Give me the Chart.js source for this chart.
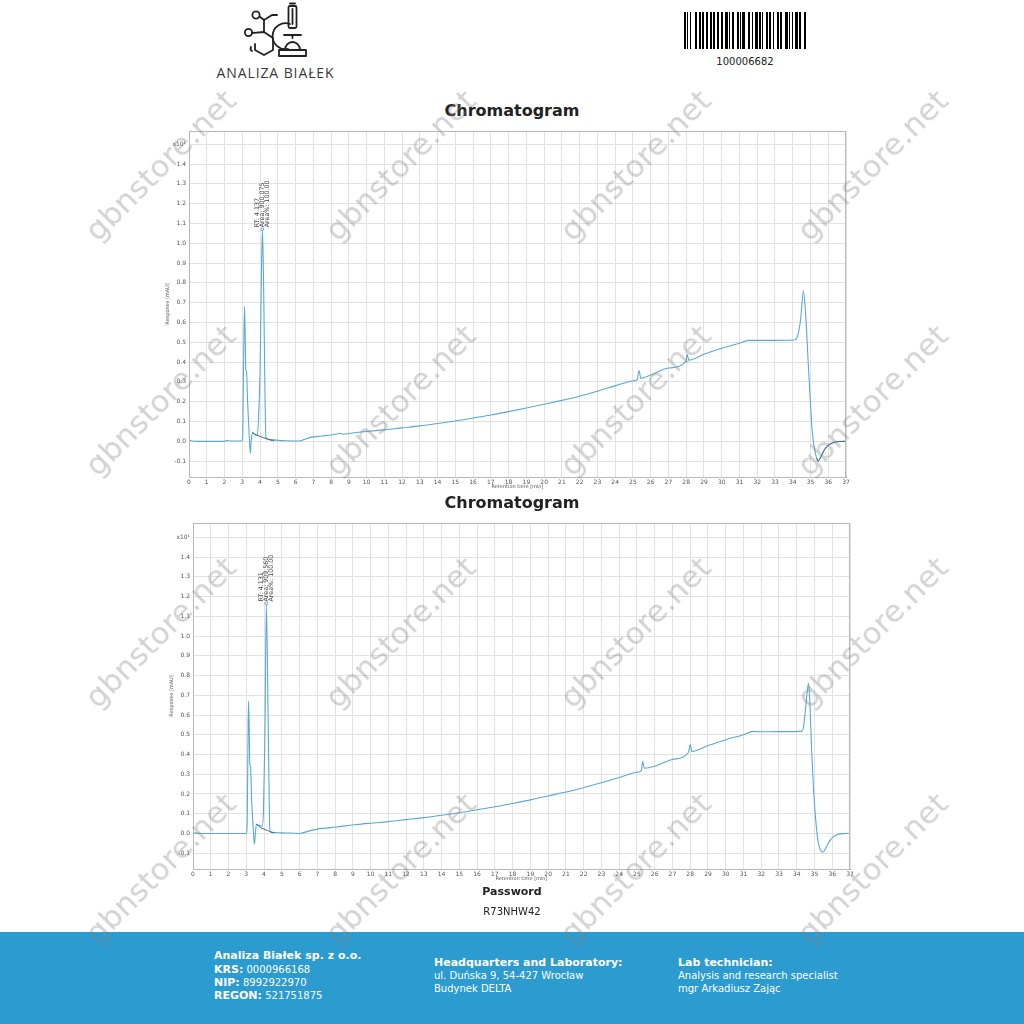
<!DOCTYPE html>
<html><head><meta charset="utf-8">
<script src="https://cdn.jsdelivr.net/npm/chart.js@4"></script>
<style>
html,body{margin:0;padding:0;background:#fff;}
body{width:1024px;height:1024px;position:relative;overflow:hidden;font-family:"DejaVu Sans",sans-serif;}
.ctitle{position:absolute;left:0;width:1024px;text-align:center;font-weight:bold;font-size:16px;line-height:20px;color:#222;}
canvas{position:absolute;}
.wm{position:absolute;transform:translate(-50%,-50%) rotate(-45deg);white-space:nowrap;font-family:"DejaVu Sans",sans-serif;font-size:31px;color:rgba(130,130,130,0.36);z-index:10;pointer-events:none;}
.footer{position:absolute;left:0;top:932px;width:1024px;height:92px;background:#2b9bd0;color:#fff;}
.fl{position:absolute;white-space:nowrap;font-size:10px;line-height:13px;}
.fl b{font-size:11px;}
</style></head>
<body>
<svg style="position:absolute;left:200px;top:0" width="160" height="90" viewBox="200 0 160 90">
 <g fill="none" stroke="#222" stroke-width="1.8" stroke-linecap="round" stroke-linejoin="round">
  <circle cx="256" cy="15" r="3.6"/>
  <circle cx="248.5" cy="32.5" r="3.6"/>
  <path d="M259.5 16.5 L264 20 L272 15 L277 15"/>
  <path d="M264 20 L264 32"/>
  <path d="M252 33 L264 32 L273 38 L273 50 L264 55 L255 50 L255 44"/>
  <path d="M251 47 A3 3 0 0 0 252 51"/>
  <path d="M290 24 A13 13 0 1 0 288 49"/>
  <rect x="288.5" y="6" width="8" height="22" rx="1.5"/>
  <path d="M290 3.5 L295 3.5 M292.5 9 L292.5 24"/>
  <path d="M284 35 L301 35"/>
  <path d="M292.5 35 L292.5 38"/>
  <path d="M285 50 A7.5 8 0 0 1 300 50"/>
  <rect x="279" y="50" width="27" height="6"/>
 </g>
 <text x="275.5" y="78" text-anchor="middle" font-family="'Open Sans',sans-serif" font-size="14" fill="#3a3a3a" letter-spacing="0.9">ANALIZA BIAŁEK</text>
</svg>
<svg id="barcode" style="position:absolute;left:684px;top:12px" width="124" height="37"></svg>
<div style="position:absolute;left:645px;width:200px;top:55px;text-align:center;font-size:10px;line-height:14px;color:#222;">100006682</div>

<div class="ctitle" style="top:101px">Chromatogram</div>
<canvas id="c1" width="697" height="380" style="left:163px;top:120px"></canvas>
<div class="ctitle" style="top:493px">Chromatogram</div>
<canvas id="c2" width="697" height="380" style="left:167px;top:512px"></canvas>

<div style="position:absolute;left:0;width:1024px;top:884px;text-align:center;font-weight:bold;font-size:11px;line-height:16px;color:#222;">Password</div>
<div style="position:absolute;left:0;width:1024px;top:904px;text-align:center;font-size:10px;line-height:16px;color:#222;">R73NHW42</div>

<div class="footer">
 <div class="fl" style="left:214px;top:17px"><b>Analiza Białek sp. z o.o.</b></div>
 <div class="fl" style="left:214px;top:30.5px"><b>KRS:</b> 0000966168</div>
 <div class="fl" style="left:214px;top:44px"><b>NIP:</b> 8992922970</div>
 <div class="fl" style="left:214px;top:57px"><b>REGON:</b> 521751875</div>
 <div class="fl" style="left:434px;top:24px"><b>Headquarters and Laboratory:</b></div>
 <div class="fl" style="left:434px;top:37px">ul. Duńska 9, 54-427 Wrocław</div>
 <div class="fl" style="left:434px;top:50px">Budynek DELTA</div>
 <div class="fl" style="left:678px;top:24px"><b>Lab technician:</b></div>
 <div class="fl" style="left:678px;top:37px">Analysis and research specialist</div>
 <div class="fl" style="left:678px;top:50px">mgr Arkadiusz Zając</div>
</div>

<script>
// ---------- DATA ----------
const xTickMax = 37;
const yTickTopLabel = 'x10\u00B9';

const trace1X = [0,0.4,1,2,2.1,2.5,2.95,3.02,3.08,3.13,3.17,3.2,3.24,3.3,3.38,3.45,3.5,3.57,3.7,3.85,3.92,4.0,4.08,4.137,4.2,4.27,4.33,4.5,5,5.5,6,6.27,6.5,6.83,7.5,8,8.5,8.7,9,10,11,12,13,14,15,16,17,18,19,20,21,22,23,24,25,25.25,25.34,25.45,26,27,28,28.05,28.15,29,30,31,31.5,32,33,34.1,34.3,34.45,34.6,34.72,34.9,35.1,35.3,35.43,35.6,35.8,36,36.3,36.6,37];
const trace1Y = [0.005,0,0,0,0.004,0.002,0.002,0.01,0.45,0.68,0.5,0.36,0.355,0.2,0.05,-0.06,0,0.044,0.035,0.03,0.13,0.35,0.85,1.066,0.8,0.3,0.02,0.01,0.005,0.003,0.002,0.003,0.01,0.02,0.027,0.032,0.04,0.036,0.04,0.05,0.058,0.068,0.078,0.09,0.103,0.118,0.133,0.15,0.168,0.187,0.207,0.228,0.253,0.28,0.305,0.312,0.358,0.318,0.335,0.37,0.405,0.44,0.41,0.44,0.47,0.495,0.51,0.51,0.51,0.512,0.54,0.62,0.76,0.65,0.35,0.05,-0.07,-0.1,-0.075,-0.04,-0.02,-0.006,-0.001,0];
const base1X = [3.57,3.8,4.0,4.2,4.4,4.6,4.8,null,35.35,35.43,35.6,35.8,36,36.3,36.6,37];
const base1Y = [0.044,0.032,0.025,0.018,0.012,0.006,0.004,null,-0.085,-0.1,-0.075,-0.04,-0.02,-0.006,-0.001,0];
const peak1RT = 4.137, peak1H = 1.066;
const peak1Labels = ['RT: 4.137','Area: 900.075','Area%: 100.00'];

const trace2X = [0,0.5,2,3,3.05,3.1,3.13,3.17,3.2,3.24,3.3,3.38,3.46,3.52,3.57,3.75,3.9,3.97,4.05,4.131,4.2,4.27,4.33,4.55,5,5.5,6,6.5,7,8.1,9.2,10,11,12,13,14,15,16,17,18,19,20,21,22,23,24,25,25.25,25.32,25.42,26,27,27.9,28,28.1,29,30,31,31.54,32,33,34.27,34.4,34.55,34.66,34.72,34.85,35,35.2,35.35,35.48,35.6,35.8,36,36.23,36.6,37];
const trace2Y = [0.003,0,0,0,0.05,0.5,0.67,0.5,0.35,0.34,0.18,0.04,-0.055,0.01,0.047,0.04,0.037,0.12,0.5,1.16,0.8,0.3,0.015,0.005,0.003,0.002,0,0.012,0.022,0.033,0.045,0.052,0.06,0.07,0.08,0.092,0.105,0.12,0.135,0.152,0.17,0.19,0.21,0.232,0.257,0.283,0.31,0.318,0.364,0.33,0.34,0.375,0.41,0.45,0.415,0.445,0.475,0.5,0.517,0.515,0.516,0.517,0.55,0.68,0.76,0.7,0.4,0.15,-0.04,-0.085,-0.095,-0.08,-0.045,-0.022,-0.008,-0.001,0];
const base2X = [3.57,3.8,4.0,4.2,4.4,4.6];
const base2Y = [0.047,0.03,0.022,0.015,0.006,0.003];
const peak2RT = 4.131, peak2H = 1.16;
const peak2Labels = ['RT: 4.131','Area: 909.560','Area%: 100.00'];

const yMin = -0.18;
const yMax1 = 1.567, yMax2 = 1.5725;

// ---------- WATERMARKS ----------
const wmCols = [160, 400, 635, 872];
const wmRows = [165, 400, 632, 868];
wmRows.forEach(cy => wmCols.forEach(cx => {
  const d = document.createElement('div');
  d.className = 'wm'; d.textContent = 'gbnstore.net';
  d.style.left = cx + 'px'; d.style.top = cy + 'px';
  document.body.appendChild(d);
}));

// ---------- BARCODE ----------
const barPattern = '11010010000110011011001100110110011001100111010011000110101110001100100111011010001101100100011011000111010010011101100011101011';
(function(){
  const svg = document.getElementById('barcode');
  let s = '';
  for (let i = 0; i < barPattern.length && i < 122; i++) {
    if (barPattern[i] === '1') s += '<rect x="' + i + '" y="0" width="1" height="37" fill="#000"/>';
  }
  svg.innerHTML = s;
})();

// ---------- CHARTS ----------
const frame = {
  id: 'frame',
  afterDraw(chart) {
    const {ctx, chartArea: a} = chart;
    ctx.save(); ctx.strokeStyle = '#b8b8b8'; ctx.lineWidth = 1;
    ctx.strokeRect(Math.round(a.left) + 0.5, Math.round(a.top) + 0.5, Math.round(a.right - a.left) - 1, Math.round(a.bottom - a.top));
    ctx.restore();
  }
};
const peakLabel = {
  id: 'peakLabel',
  afterDatasetsDraw(chart, args, opts) {
    const {ctx, scales} = chart;
    const px = scales.x.getPixelForValue(opts.rt), py = scales.y.getPixelForValue(opts.h);
    ctx.save();
    ctx.strokeStyle = '#4a8fc0'; ctx.lineWidth = 0.8;
    ctx.beginPath(); ctx.arc(px, py - 1, 1.3, 0, Math.PI * 2); ctx.stroke();
    ctx.fillStyle = '#444'; ctx.font = '6.3px "DejaVu Sans"';
    ctx.translate(px, py - 3); ctx.rotate(-Math.PI / 2);
    ctx.textAlign = 'left'; ctx.textBaseline = 'middle';
    opts.lines.forEach((t, i) => ctx.fillText(t, 0, -5 + i * 5));
    ctx.restore();
  }
};

function makeChart(id, tx, ty, bx, by, yMax, rt, h, lines) {
  const toPts = (xs, ys) => xs.map((x, i) => ({x: x, y: ys[i]}));
  return new Chart(document.getElementById(id), {
    type: 'line',
    data: { datasets: [
      { data: toPts(bx, by), borderColor: '#3b6688', borderWidth: 1, pointRadius: 0, cubicInterpolationMode: 'monotone', spanGaps: false },
      { data: toPts(tx, ty), borderColor: '#58a9d6', borderWidth: 1.1, pointRadius: 0, cubicInterpolationMode: 'monotone' }
    ]},
    options: {
      responsive: false, animation: false, events: [],
      layout: { padding: { left: 0, right: 14, top: 11, bottom: 9 } },
      plugins: { legend: { display: false }, tooltip: { enabled: false }, peakLabel: { rt: rt, h: h, lines: lines } },
      scales: {
        x: {
          type: 'linear', min: 0, max: xTickMax,
          ticks: { stepSize: 1, color: '#555', font: { size: 6, family: 'DejaVu Sans' }, padding: 2, maxRotation: 0, autoSkip: false },
          grid: { color: '#e2e2e2', drawTicks: false },
          border: { color: '#9a9a9a' },
          title: { display: true, text: 'Retention time [min]', color: '#555', font: { size: 5, family: 'DejaVu Sans' }, padding: { top: 0, bottom: 1 } },
          afterFit(s) { s.height = 14; }
        },
        y: {
          min: yMin, max: yMax,
          ticks: { stepSize: 0.1, includeBounds: false, color: '#555', font: { size: 6, family: 'DejaVu Sans' }, padding: 3,
            callback: v => Math.abs(v - 1.5) < 1e-6 ? yTickTopLabel : v.toFixed(1) },
          grid: { color: '#e2e2e2', drawTicks: false },
          border: { color: '#9a9a9a' },
          title: { display: true, text: 'Response [mAU]', color: '#555', font: { size: 5, family: 'DejaVu Sans' }, padding: { top: 2, bottom: 0 } },
          afterFit(s) { s.width = 26; }
        }
      }
    },
    plugins: [frame, peakLabel]
  });
}

makeChart('c1', trace1X, trace1Y, base1X, base1Y, yMax1, peak1RT, peak1H, peak1Labels);
makeChart('c2', trace2X, trace2Y, base2X, base2Y, yMax2, peak2RT, peak2H, peak2Labels);
</script>
</body></html>
